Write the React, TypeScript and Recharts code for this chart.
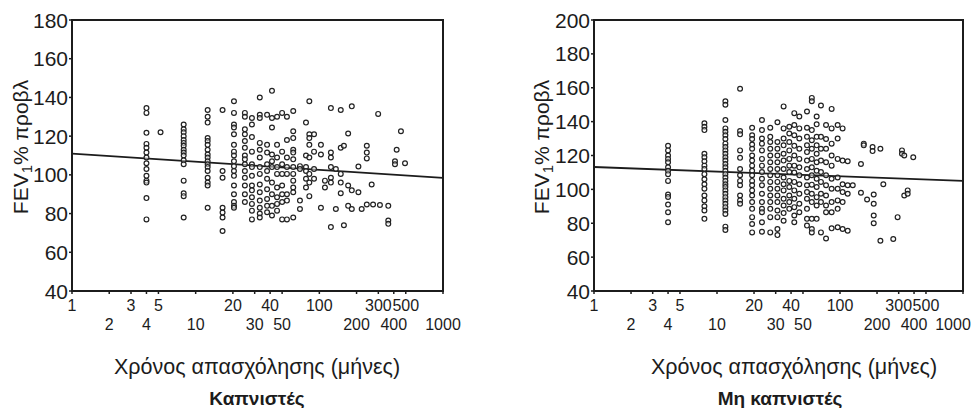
import { Label, ReferenceArea, ReferenceLine, Scatter, ScatterChart, XAxis, YAxis } from "recharts";

// months of employment (log axis) -> FEV1 % predicted, grouped by column of points
const smokerCols: [number, number[]][] = [
    [4, [134.5, 132, 121.7, 116, 114, 111.5, 109, 106, 103, 99.5, 97, 96, 88, 77]],
    [5.2, [122]],
    [8, [126, 123.5, 122, 120, 118, 116.5, 115, 113, 111.5, 110, 107.5, 105.5, 97, 90.5, 89, 78]],
    [12.5, [133.5, 130, 127, 119, 117.5, 115.5, 113, 110.5, 109, 107, 105.5, 104, 102, 98.5, 96, 94.5, 83]],
    [16.5, [133.5, 102, 98.5, 83, 80.5, 78, 71]],
    [20.4, [138, 132, 126, 124.5, 121, 115.5, 112, 110, 107, 104.5, 102, 99.5, 94.5, 90, 86, 84, 83]],
    [25, [132, 130, 123.5, 121, 117.5, 114, 110, 108, 105.5, 102, 98.5, 94.5, 90, 86]],
    [28.5, [129.4, 126, 119.5, 112, 105.5, 104, 99.5, 94.5, 92, 88.4, 85, 81.5, 77]],
    [33, [140, 131, 129.4, 116.5, 113, 109, 104, 100.5, 95, 91, 86.7, 83, 80, 78]],
    [37.8, [131, 115.5, 111.5, 105.5, 102, 98, 92.6, 87.5, 84, 80.7]],
    [41.4, [143.4, 129.4, 124.5, 110.5, 107, 104, 96, 90, 84, 79]],
    [45.5, [130, 115.5, 109, 104, 100.5, 93.5, 88.4, 85, 81.5]],
    [50, [132, 112, 105.5, 100.5, 94.5, 90, 86, 77]],
    [54.7, [130, 118, 109, 104, 100.5, 90, 86.7, 77]],
    [61.5, [133, 122.5, 119, 113, 111.5, 108, 104, 100.5, 97, 93.5, 91, 78]],
    [69.7, [104.5, 103, 86.7, 82.4]],
    [78, [127, 110, 104, 102, 98, 93.5]],
    [83, [138, 121, 119, 115.5, 109, 100.5, 96, 89]],
    [90.6, [121, 112, 103, 98]],
    [103, [115.5, 110.5, 83]],
    [111, [97, 93.5]],
    [124, [134.5, 111.5, 109, 104, 98.5, 96, 73]],
    [136, [103, 82.4]],
    [149, [133.5, 114, 100.5, 96, 90.5]],
    [158, [115, 74]],
    [171, [121.4, 94.5, 84]],
    [183, [135.4, 92, 82.4]],
    [207, [104.3, 91]],
    [220, [82.4]],
    [242, [115, 111.5, 108.5, 84.7]],
    [265, [95]],
    [272, [84.7]],
    [299, [131.5]],
    [309, [84.4]],
    [361, [84, 76.4, 74.7]],
    [409, [107, 105.5]],
    [422, [113]],
    [457, [122.5]],
    [493, [106]],
];

const nonSmokerCols: [number, number[]][] = [
    [4, [125.7, 123, 120, 118, 116, 113, 111, 109, 105, 97, 95.5, 91, 86.5, 80.6]],
    [7.9, [139, 137, 135, 121, 119, 116.6, 114, 112, 109, 106, 103, 100.4, 96.4, 93.5, 90, 87.5, 82.6]],
    [11.7, [152, 150, 141, 136, 134, 132, 129.7, 127, 125, 123, 121, 119, 117, 115, 113, 111, 109, 107, 105, 103, 101.4, 99.4, 97.4, 95.4, 93.5, 91.5, 89.5, 87.5, 85.5, 78, 76]],
    [15.4, [159.4, 134.5, 132.5, 123, 118.6, 112, 108.3, 105, 102.4, 96.4, 93.5, 91.5]],
    [19.3, [136.4, 132, 129.7, 126.5, 124, 120, 117, 114, 111, 108.3, 105, 102.4, 99.4, 96.4, 92.5, 88.5, 83.6, 79.6, 74.6]],
    [23.2, [141, 135, 130, 127, 123, 118, 114, 110.3, 106.3, 102.4, 97.4, 92.5, 88.5, 86.5, 80.6, 75]],
    [27.1, [136.4, 131, 128, 124, 120, 116, 112, 108.3, 104.4, 100.4, 96.4, 92.5, 88.5, 83.6, 74.6]],
    [31, [139.6, 128, 124, 120, 116, 112, 108.3, 104.4, 100.4, 96.4, 92.5, 87.5, 83.6, 76.6, 73]],
    [34.8, [149, 136, 130, 126, 121, 117, 112, 107, 103, 99.4, 94.5, 90.5, 86, 81.5]],
    [38.7, [137, 133, 128, 123, 118, 114, 110.3, 105, 101.4, 96.4, 92.5, 88.5]],
    [42.5, [145, 138, 132, 125.7, 120, 114, 110, 104.4, 99.4, 94.5, 89.5, 84.6, 80.6]],
    [46.7, [143, 136, 130, 124, 118, 113, 108.3, 103, 97.4, 91.5, 86.5]],
    [53.9, [146, 136.4, 131, 126, 122, 117, 112, 107, 102.4, 98.4, 94.5, 88.5, 82.6, 78.6]],
    [59, [154, 152, 135, 129, 124, 118, 113, 108.3, 102.8, 97.4, 92.5, 82.6, 76.6, 74.6]],
    [64.6, [143, 138.4, 131, 126, 121, 116, 111, 106.3, 101.4, 95.4, 90.5, 82.6]],
    [70, [149.5, 131, 124, 117, 110.3, 104.4, 97.4, 92.5, 74.6]],
    [77, [138, 129.7, 124, 116, 108.3, 102.4, 96.4, 90.5, 86.5, 71]],
    [85.5, [147.5, 136, 127, 120, 114, 106.3, 100.4, 92.5, 86.5, 77]],
    [95.7, [138, 130, 118, 107, 100.4, 93.5, 88.5, 77.6]],
    [105, [136, 117, 103, 98.4, 92.5, 76.6]],
    [115.5, [116.6, 102.4, 97.4, 75.6]],
    [127, [102.4]],
    [148, [115, 98]],
    [156, [127, 126]],
    [166, [94]],
    [184, [125, 122.6]],
    [188, [97, 91.5, 84.6, 80]],
    [213, [124, 69.7]],
    [225, [103]],
    [271, [70.7]],
    [294, [83.6]],
    [319, [123, 121]],
    [333, [120, 96.4]],
    [355, [99.4, 97.4]],
    [394, [119]],
];

const xTicks = [1, 2, 3, 4, 5, 10, 20, 30, 40, 50, 100, 200, 300, 400, 500, 1000];
const smokerYTicks = [40, 60, 80, 100, 120, 140, 160, 180];
const nonSmokerYTicks = [40, 60, 80, 100, 120, 140, 160, 180, 200];

// fitted regression line, FEV1 at 1 and 1000 months
const smokerFit = [{ x: 1, y: 111 }, { x: 1000, y: 98.4 }];
const nonSmokerFit = [{ x: 1, y: 113.2 }, { x: 1000, y: 105 }];

const xTitle = "Χρόνος απασχόλησης (μήνες)";

const FONT = "'Liberation Sans', Arial, sans-serif";
const INK = "#1c1c1c";

const flatten = (cols: [number, number[]][]) =>
    cols.flatMap(([x, ys]) => ys.map(y => ({ x, y })));

const Dot = (props: any) => {
    const { cx, cy } = props;
    if (cx == null || cy == null) return null;
    return <circle cx={cx} cy={cy} r={2.4} fill="#fff" fillOpacity={0.5} stroke="#222" strokeWidth={1.2} />;
};

const XTick = (props: any) => {
    const { x, y, payload } = props;
    const row = xTicks.indexOf(payload.value) % 2;
    // keep the last label inside the panel
    const tx = Math.min(x, 467);
    return (
        <text x={tx} y={y + (row ? 34 : 15)} textAnchor="middle" fontSize={16} fill={INK} fontFamily={FONT}>
            {payload.value}
        </text>
    );
};

const YTick = (props: any) => {
    const { x, y, payload } = props;
    return (
        <text x={x} y={y} dy={7.5} textAnchor="end" fontSize={21} fill={INK} fontFamily={FONT}>
            {payload.value}
        </text>
    );
};

const YTitle = ({ cx, cy }: { cx: number; cy: number }) => (
    <text
        x={cx}
        y={cy}
        transform={`rotate(-90, ${cx}, ${cy})`}
        textAnchor="middle"
        dominantBaseline="central"
        fontSize={21}
        fill={INK}
        fontFamily={FONT}
    >
        FEV<tspan dy={6} fontSize={15}>1</tspan><tspan dy={-6}>% προβλ</tspan>
    </text>
);

const XTitle = ({ cx, subX, sub }: { cx: number; subX: number; sub: string }) => (
    <g fontFamily={FONT} fill={INK}>
        <text x={cx} y={374} textAnchor="middle" fontSize={21.5}>{xTitle}</text>
        <text x={subX} y={405} textAnchor="middle" fontSize={19} fontWeight="bold">{sub}</text>
    </g>
);

interface PanelProps {
    cols: [number, number[]][];
    fit: { x: number; y: number }[];
    yTicks: number[];
    yAxisWidth: number;
    marginRight: number;
    yTitleX: number;
    titleX: number;
    subX: number;
    sub: string;
}

const Panel = ({ cols, fit, yTicks, yAxisWidth, marginRight, yTitleX, titleX, subX, sub }: PanelProps) => {
    const yMin = yTicks[0];
    const yMax = yTicks[yTicks.length - 1];
    return (
        <ScatterChart width={486} height={408} margin={{ top: 20, right: marginRight, bottom: 0, left: 0 }}>
            <XAxis
                type="number"
                dataKey="x"
                scale="log"
                domain={[1, 1000]}
                ticks={xTicks}
                interval={0}
                height={117}
                tick={<XTick />}
                tickSize={3}
                tickLine={{ stroke: INK, strokeWidth: 1.5 }}
                axisLine={{ stroke: INK, strokeWidth: 2 }}
                allowDataOverflow
            >
                <Label content={() => <XTitle cx={titleX} subX={subX} sub={sub} />} />
            </XAxis>
            <YAxis
                type="number"
                dataKey="y"
                domain={[yMin, yMax]}
                ticks={yTicks}
                interval={0}
                width={yAxisWidth}
                tick={<YTick />}
                tickSize={3}
                tickMargin={1}
                tickLine={{ stroke: INK, strokeWidth: 1.5 }}
                axisLine={{ stroke: INK, strokeWidth: 2 }}
                allowDataOverflow
            >
                <Label content={() => <YTitle cx={yTitleX} cy={147} />} />
            </YAxis>
            <ReferenceArea x1={1} x2={1000} y1={yMin} y2={yMax} fill="none" stroke={INK} strokeWidth={2} ifOverflow="visible" />
            <Scatter data={flatten(cols)} shape={<Dot />} isAnimationActive={false} />
            <ReferenceLine segment={fit} stroke={INK} strokeWidth={1.8} ifOverflow="visible" />
        </ScatterChart>
    );
};

export default function App() {
    return (
        <div style={{ position: "absolute", left: 0, top: 0, width: 972, height: 408, background: "#fff", display: "flex" }}>
            <Panel
                cols={smokerCols}
                fit={smokerFit}
                yTicks={smokerYTicks}
                yAxisWidth={72}
                marginRight={43}
                yTitleX={20}
                titleX={257}
                subX={257}
                sub="Καπνιστές"
            />
            <Panel
                cols={nonSmokerCols}
                fit={nonSmokerFit}
                yTicks={nonSmokerYTicks}
                yAxisWidth={108}
                marginRight={9}
                yTitleX={55}
                titleX={308}
                subX={294}
                sub="Μη καπνιστές"
            />
        </div>
    );
}
